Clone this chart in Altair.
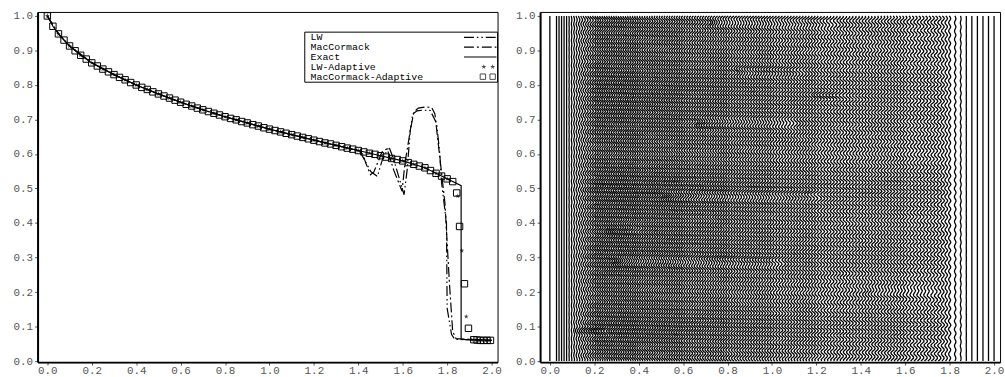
import altair as alt
import numpy as np
import pandas as pd

alt.data_transformers.disable_max_rows()

# ---------------- left panel: solution profiles ----------------
exact_x = [0.0, 0.025, 0.05, 0.075, 0.1, 0.15, 0.2, 0.3, 0.4, 0.5, 0.6, 0.7, 0.8, 0.9,
           1.0, 1.1, 1.2, 1.3, 1.4, 1.5, 1.6, 1.7, 1.8, 1.863, 1.863, 2.0]
exact_y = [1.0, 0.970, 0.948, 0.930, 0.913, 0.886, 0.864, 0.830, 0.800, 0.774, 0.750, 0.728, 0.708, 0.690,
           0.672, 0.656, 0.640, 0.625, 0.610, 0.595, 0.580, 0.560, 0.528, 0.508, 0.063, 0.060]

lw_x = [0.0, 0.05, 0.1, 0.2, 0.3, 0.4, 0.5, 0.6, 0.7, 0.8,
        0.9, 1.0, 1.1, 1.2, 1.3, 1.38, 1.405, 1.428, 1.456, 1.486,
        1.508, 1.538, 1.56, 1.606, 1.62, 1.634, 1.645, 1.665, 1.69, 1.724,
        1.753, 1.767, 1.775, 1.797, 1.80, 1.82, 1.835, 2.0]
lw_y = [1.0, 0.948, 0.913, 0.864, 0.830, 0.800, 0.774, 0.750, 0.728, 0.708,
        0.690, 0.672, 0.656, 0.640, 0.625, 0.613, 0.610, 0.583, 0.549, 0.535,
        0.583, 0.621, 0.583, 0.482, 0.554, 0.668, 0.716, 0.725, 0.727, 0.726,
        0.688, 0.600, 0.516, 0.400, 0.153, 0.077, 0.063, 0.060]

mc_x = [0.0, 0.05, 0.1, 0.2, 0.3, 0.4, 0.5, 0.6, 0.7, 0.8,
        0.9, 1.0, 1.1, 1.2, 1.3, 1.4, 1.42, 1.434, 1.455, 1.47,
        1.486, 1.508, 1.53, 1.559, 1.597, 1.61, 1.634, 1.65, 1.67, 1.70,
        1.73, 1.745, 1.76, 1.775, 1.79, 1.81, 1.825, 1.84, 2.0]
mc_y = [1.0, 0.948, 0.913, 0.864, 0.830, 0.800, 0.774, 0.750, 0.728, 0.708,
        0.690, 0.672, 0.656, 0.640, 0.625, 0.610, 0.600, 0.573, 0.540, 0.548,
        0.573, 0.607, 0.615, 0.554, 0.492, 0.573, 0.668, 0.721, 0.733, 0.736,
        0.735, 0.716, 0.630, 0.545, 0.458, 0.229, 0.086, 0.065, 0.060]

# MacCormack-Adaptive nodes (squares)
mca_x = [0.0, 0.025, 0.05, 0.075, 0.1, 0.125, 0.15, 0.175, 0.2, 0.225,
         0.25, 0.275, 0.3, 0.325, 0.35, 0.375, 0.4, 0.425, 0.45, 0.475,
         0.5, 0.525, 0.55, 0.575, 0.6, 0.625, 0.65, 0.675, 0.7, 0.725,
         0.75, 0.775, 0.8, 0.825, 0.85, 0.875, 0.9, 0.925, 0.95, 0.975,
         1.0, 1.025, 1.05, 1.075, 1.1, 1.125, 1.15, 1.175, 1.2, 1.225,
         1.25, 1.275, 1.3, 1.325, 1.35, 1.375, 1.4, 1.425, 1.45, 1.475,
         1.5, 1.525, 1.55, 1.575, 1.6, 1.625, 1.65, 1.675, 1.7, 1.725,
         1.75, 1.775, 1.8, 1.825,
         1.843, 1.856, 1.878, 1.896, 1.92, 1.935, 1.95, 1.965, 1.98, 1.995]
mca_y = [1.000, 0.970, 0.948, 0.930, 0.913, 0.899, 0.886, 0.875, 0.864, 0.855,
         0.846, 0.838, 0.830, 0.822, 0.815, 0.807, 0.800, 0.793, 0.787, 0.780,
         0.774, 0.768, 0.762, 0.756, 0.750, 0.744, 0.739, 0.733, 0.728, 0.723,
         0.718, 0.713, 0.708, 0.703, 0.699, 0.694, 0.690, 0.685, 0.681, 0.676,
         0.672, 0.668, 0.664, 0.660, 0.656, 0.652, 0.648, 0.644, 0.640, 0.636,
         0.632, 0.629, 0.625, 0.621, 0.617, 0.614, 0.610, 0.606, 0.602, 0.599,
         0.595, 0.591, 0.587, 0.584, 0.580, 0.575, 0.570, 0.565, 0.560, 0.552,
         0.544, 0.536, 0.528, 0.520,
         0.487, 0.390, 0.224, 0.095, 0.062, 0.061, 0.060, 0.060, 0.060, 0.060]

# LW-Adaptive nodes (stars)
lwa_x = [0.0, 0.05, 0.1, 0.15, 0.2, 0.25, 0.3, 0.35, 0.4, 0.45,
         0.5, 0.55, 0.6, 0.65, 0.7, 0.75, 0.8, 0.85, 0.9, 0.95,
         1.0, 1.05, 1.1, 1.15, 1.2, 1.25, 1.3, 1.35, 1.4, 1.45,
         1.5, 1.55, 1.6, 1.65, 1.7, 1.75, 1.8,
         1.848, 1.866, 1.886, 1.91, 1.93, 1.945, 1.96, 1.975, 1.99]
lwa_y = [1.000, 0.948, 0.913, 0.886, 0.864, 0.846, 0.830, 0.815, 0.800, 0.787,
         0.774, 0.762, 0.750, 0.739, 0.728, 0.718, 0.708, 0.699, 0.690, 0.681,
         0.672, 0.664, 0.656, 0.648, 0.640, 0.632, 0.625, 0.617, 0.610, 0.602,
         0.595, 0.587, 0.580, 0.570, 0.560, 0.544, 0.528,
         0.478, 0.320, 0.129, 0.062, 0.061, 0.060, 0.060, 0.060, 0.060]

legend_names = ["LW", "MacCormack", "Exact", "LW-Adaptive", "MacCormack-Adaptive"]
LW_DASH = [10, 3, 1.5, 3, 1.5, 3]
MC_DASH = [10, 3, 2, 3]

# ---------------- right panel: moving-mesh node trajectories ----------------
mesh_edges = [0.0, 0.03, 0.2, 0.4, 0.6, 0.8, 1.0, 1.2, 1.4, 1.6, 1.8, 2.0]
mesh_counts = [1, 15, 19, 18, 17, 16, 15, 14, 14, 13, 8]
# wiggle amplitude of the nodes across x and its modulation over time
env_x = [0.0, 0.08, 0.2, 1.75, 1.88, 2.0]
env_a = [0.0, 0.0, 0.008, 0.008, 0.0, 0.0]
mod_t = [0.0, 0.1, 0.2, 0.3, 0.4, 0.5, 0.6, 0.7, 0.8, 0.9, 1.0]
mod_a = [0.9, 1.15, 0.85, 1.1, 1.0, 1.2, 0.9, 1.05, 1.1, 0.9, 1.0]
wiggle_period = 0.024
wiggle_drift = 0.5          # phase turns per unit x
mesh_dt = 0.004
# node clustering streaks: time, x-range, displacement
streak_t = [0.086, 0.20, 0.287, 0.378, 0.476, 0.688, 0.77, 0.84, 0.98]
streak_x0 = [0.11, 1.42, 0.29, 0.26, 0.51, 0.66, 1.19, 0.84, 0.72]
streak_x1 = [0.26, 1.74, 1.05, 0.40, 1.21, 1.10, 1.33, 1.14, 1.29]
streak_dx = [-0.008, -0.008, -0.009, -0.008, -0.009, -0.009, -0.007, -0.008, -0.009]
streak_half = 0.014

XDOM = [-0.044, 2.027]
YDOM = [-0.003, 1.0115]
PW, PH = 465, 354
MONO = "Liberation Mono"

x_ticks = [0.0, 0.2, 0.4, 0.6, 0.8, 1.0, 1.2, 1.4, 1.6, 1.8, 2.0]
y_ticks = [0.0, 0.1, 0.2, 0.3, 0.4, 0.5, 0.6, 0.7, 0.8, 0.9, 1.0]


def x_enc(field="x"):
    return alt.X(f"{field}:Q", scale=alt.Scale(domain=XDOM, nice=False, zero=False),
                 axis=alt.Axis(values=x_ticks, format=".1f", title=None, grid=False,
                               tickSize=3, tickColor="#555", domainColor="black", domainWidth=2,
                               labelFont=MONO, labelFontSize=11, labelColor="#555",
                               labelPadding=0, labelFlush=False, minExtent=16, maxExtent=16))


def y_enc(field="y"):
    return alt.Y(f"{field}:Q", scale=alt.Scale(domain=YDOM, nice=False, zero=False),
                 axis=alt.Axis(values=y_ticks, format=".1f", title=None, grid=False,
                               tickSize=3, tickColor="#555", domainColor="black", domainWidth=2,
                               labelFont=MONO, labelFontSize=11, labelColor="#555",
                               labelPadding=2, labelFlush=False, minExtent=37, maxExtent=37))


def series(xs, ys):
    return pd.DataFrame({"x": xs, "y": ys, "i": range(len(xs))})


exact_line = alt.Chart(series(exact_x, exact_y)).mark_line(color="black", strokeWidth=1.2).encode(
    x=x_enc(), y=y_enc(), order="i:Q")
lw_line = alt.Chart(series(lw_x, lw_y)).mark_line(color="black", strokeWidth=1.2, strokeDash=LW_DASH).encode(
    x=x_enc(), y=y_enc(), order="i:Q")
mc_line = alt.Chart(series(mc_x, mc_y)).mark_line(color="black", strokeWidth=1.2, strokeDash=MC_DASH).encode(
    x=x_enc(), y=y_enc(), order="i:Q")

STAR = ("M0,-1L0.2245,-0.309L0.9511,-0.309L0.3633,0.118L0.5878,0.809L0,0.382"
        "L-0.5878,0.809L-0.3633,0.118L-0.9511,-0.309L-0.2245,-0.309Z")
stars = alt.Chart(series(lwa_x, lwa_y)).mark_point(shape=STAR, filled=True, color="black", size=28).encode(
    x=x_enc(), y=y_enc())
squares = alt.Chart(series(mca_x, mca_y)).mark_point(shape="square", filled=False, color="black",
                                                   size=42, strokeWidth=1, opacity=1).encode(
    x=x_enc(), y=y_enc())

# legend box, labels and samples
leg_rows = [0.938, 0.9095, 0.881, 0.8525, 0.824]
leg_box = alt.Chart(pd.DataFrame({"x": [1.159], "x2": [2.027], "y": [0.808], "y2": [0.953]})).mark_rect(
    fill="white", stroke="black", strokeWidth=1).encode(x=x_enc(), x2="x2:Q", y=y_enc(), y2="y2:Q")
leg_text = alt.Chart(pd.DataFrame({"x": [1.185] * 5, "y": leg_rows, "t": legend_names})).mark_text(
    align="left", baseline="middle", font=MONO, fontSize=10, color="black").encode(
    x=x_enc(), y=y_enc(), text="t:N")


def sample(row, dash=None):
    kw = dict(color="black", strokeWidth=1.2)
    if dash:
        kw["strokeDash"] = dash
    return alt.Chart(series([1.876, 2.022], [leg_rows[row]] * 2)).mark_line(**kw).encode(
        x=x_enc(), y=y_enc(), order="i:Q")


leg_stars = alt.Chart(series([1.965, 2.005], [leg_rows[3]] * 2)).mark_point(
    shape=STAR, filled=True, color="black", size=28).encode(x=x_enc(), y=y_enc())
leg_squares = alt.Chart(series([1.961, 2.005], [leg_rows[4]] * 2)).mark_point(
    shape="square", filled=False, color="black", size=30, strokeWidth=1).encode(x=x_enc(), y=y_enc())

left = alt.layer(
    exact_line, lw_line, mc_line, stars, squares,
    leg_box, leg_text, sample(0, LW_DASH), sample(1, MC_DASH), sample(2), leg_stars, leg_squares,
).properties(width=PW, height=PH)

# build mesh trajectories: node positions at each time level
nodes = []
for a, b, n in zip(mesh_edges[:-1], mesh_edges[1:], mesh_counts):
    for j in range(n):
        nodes.append(a + j * (b - a) / n)
nodes.append(2.0)

levels = np.round(np.arange(0.0, 1.0 + 1e-9, mesh_dt), 4)
tmod = np.interp(levels, mod_t, mod_a)
frames = []
for idx, x0 in enumerate(nodes):
    amp = float(np.interp(x0, env_x, env_a))
    xs = x0 + amp * tmod * np.sin(2 * np.pi * (levels / wiggle_period + wiggle_drift * x0))
    for tc, xa, xb, dx in zip(streak_t, streak_x0, streak_x1, streak_dx):
        if xa <= x0 <= xb:
            taper = min(1.0, (x0 - xa) / 0.05 + 0.2, (xb - x0) / 0.05 + 0.2)
            xs = xs + dx * taper * np.clip(1 - np.abs(levels - tc) / streak_half, 0, None)
    frames.append(pd.DataFrame({"node": idx, "t": levels, "x": np.round(xs, 4)}))
mesh = pd.concat(frames, ignore_index=True)

right = alt.Chart(mesh).mark_line(color="black", strokeWidth=1.3).encode(
    x=x_enc("x"), y=y_enc("t"), detail="node:N", order="t:Q"
).properties(width=PW, height=PH)

chart = alt.hconcat(left, right, spacing=0).properties(
    padding={"left": 0, "top": 7, "right": 0, "bottom": 0},
    background="white",
).configure_view(stroke="black", strokeWidth=1)

chart.save("out.html", embed_options={"renderer": "svg", "actions": False})
